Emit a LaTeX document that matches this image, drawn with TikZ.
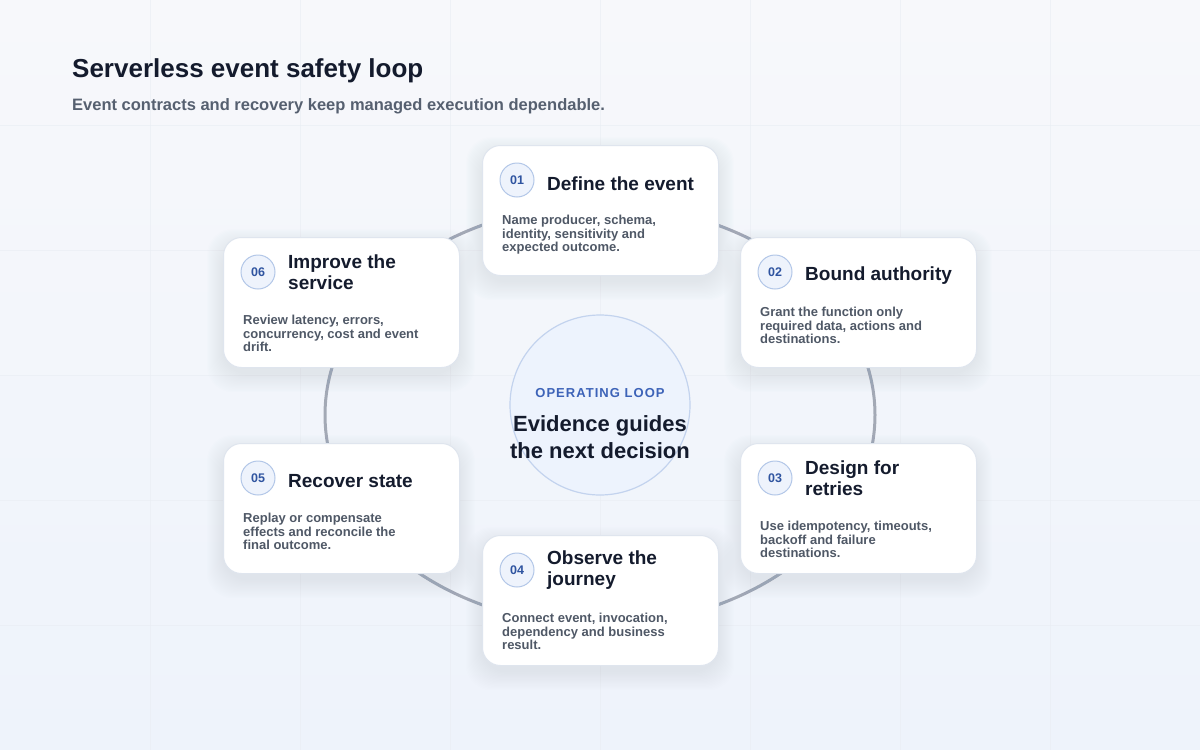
\documentclass[tikz,border=0pt]{standalone}
\usepackage{fontspec}
\setmainfont{Liberation Sans}
\newfontfamily\capsfont[LetterSpace=8]{Liberation Sans}
\usetikzlibrary{positioning}

\definecolor{ink}{HTML}{141B2D}
\definecolor{muted}{HTML}{4F5866}
\definecolor{subink}{HTML}{566070}
\definecolor{numtext}{HTML}{2F54A0}
\definecolor{numfill}{HTML}{EEF3FC}
\definecolor{numline}{HTML}{B3C7E8}
\definecolor{cardline}{HTML}{DFE5EE}
\definecolor{hubfill}{HTML}{EDF3FD}
\definecolor{hubline}{HTML}{C3D3EE}
\definecolor{hubtag}{HTML}{3D63B8}
\definecolor{ringcol}{HTML}{A3A9B5}
\definecolor{bgtop}{HTML}{F7F8FB}
\definecolor{bgbot}{HTML}{EEF3FB}
\definecolor{gridcol}{HTML}{E9EDF4}
\definecolor{shadowcol}{HTML}{9AA5BA}

\begin{document}
\begin{tikzpicture}[x=1pt, y=-1pt]
      \tikzstyle{card}=[draw=cardline, line width=1pt, fill=white, rounded corners=18pt, minimum width=236pt, minimum height=130pt, inner sep=0pt, anchor=north west]
      \tikzstyle{num}=[draw=numline, line width=1pt, fill=numfill, shape=circle, minimum size=34pt, inner sep=0pt, text=numtext, font=\fontsize{12.5}{14}\selectfont\bfseries]
      \tikzstyle{head}=[anchor=west, align=left, inner sep=0pt, text=ink, font=\fontsize{19}{21}\selectfont\bfseries]
      \tikzstyle{body}=[anchor=north west, align=left, inner sep=0pt, text=muted, font=\fontsize{13}{13.4}\selectfont\bfseries]
      \tikzstyle{hub}=[draw=hubline, line width=1.2pt, fill=hubfill, shape=circle, minimum size=180pt, inner sep=0pt]
      \useasboundingbox (0,0) rectangle (1200,750);

      % draw background
      \shade[top color=bgtop, bottom color=bgbot] (0,0) rectangle (1200,750);
      \foreach \x in {150,300,...,1050}
      \draw [gridcol, opacity=0.6, line width=1pt] (\x,0) -- (\x,750);
      \foreach \y in {125,250,...,625}
      \draw [gridcol, opacity=0.6, line width=1pt] (0,\y) -- (1200,\y);

      % draw text
      \node [anchor=base west, inner sep=0pt, text=ink, font=\fontsize{26}{30}\selectfont\bfseries] (title) at (72,77) {Serverless event safety loop};
      \node [anchor=base west, inner sep=0pt, text=subink, font=\fontsize{16.5}{20}\selectfont\bfseries] (subtitle) at (72,110) {Event contracts and recovery keep managed execution dependable.};

      % draw loop
      \draw [ringcol, line width=3pt] (600,415) ellipse [x radius=275, y radius=210];

      \node [hub] (hub) at (600,405) {};
      \node [inner sep=0pt, text=hubtag, font=\capsfont\fontsize{13}{15}\selectfont\bfseries] (hub-tag) at (600,393) {OPERATING LOOP};
      \node [align=center, inner sep=0pt, text=ink, font=\fontsize{22}{27}\selectfont\bfseries] (hub-text) at (600,437) {Evidence guides\\the next decision};

      % draw cards
      \foreach \n/\x/\y/\ty/\by/\t/\b in {
        01/482/145/38.5/70/{Define the event}/{Name producer, schema,\\identity, sensitivity and\\expected outcome.},
        02/740/237/38.5/70/{Bound authority}/{Grant the function only\\required data, actions and\\destinations.},
        03/740/443/35/78/{Design for\\retries}/{Use idempotency, timeouts,\\backoff and failure\\destinations.},
        04/482/535/35/78/{Observe the\\journey}/{Connect event, invocation,\\dependency and business\\result.},
        05/223/443/38.5/70/{Recover state}/{Replay or compensate\\effects and reconcile the\\final outcome.},
        06/223/237/35/78/{Improve the\\service}/{Review latency, errors,\\concurrency, cost and event\\drift.}} {
          \foreach \s in {1,...,16}
          \fill [shadowcol, opacity=0.011, rounded corners=26pt] (\x-\s,\y+8-\s) rectangle (\x+236+\s,\y+136+\s*1.2);
          \node [card] (card-\n) at (\x,\y) {};
          \node [num] (num-\n) at ([shift={(35,35)}]card-\n.north west) {\n};
          \node [head] (head-\n) at ([shift={(65,\ty)}]card-\n.north west) {\t};
          \node [body] (body-\n) at ([shift={(20,\by)}]card-\n.north west) {\b};
        }

\end{tikzpicture}
\end{document}
